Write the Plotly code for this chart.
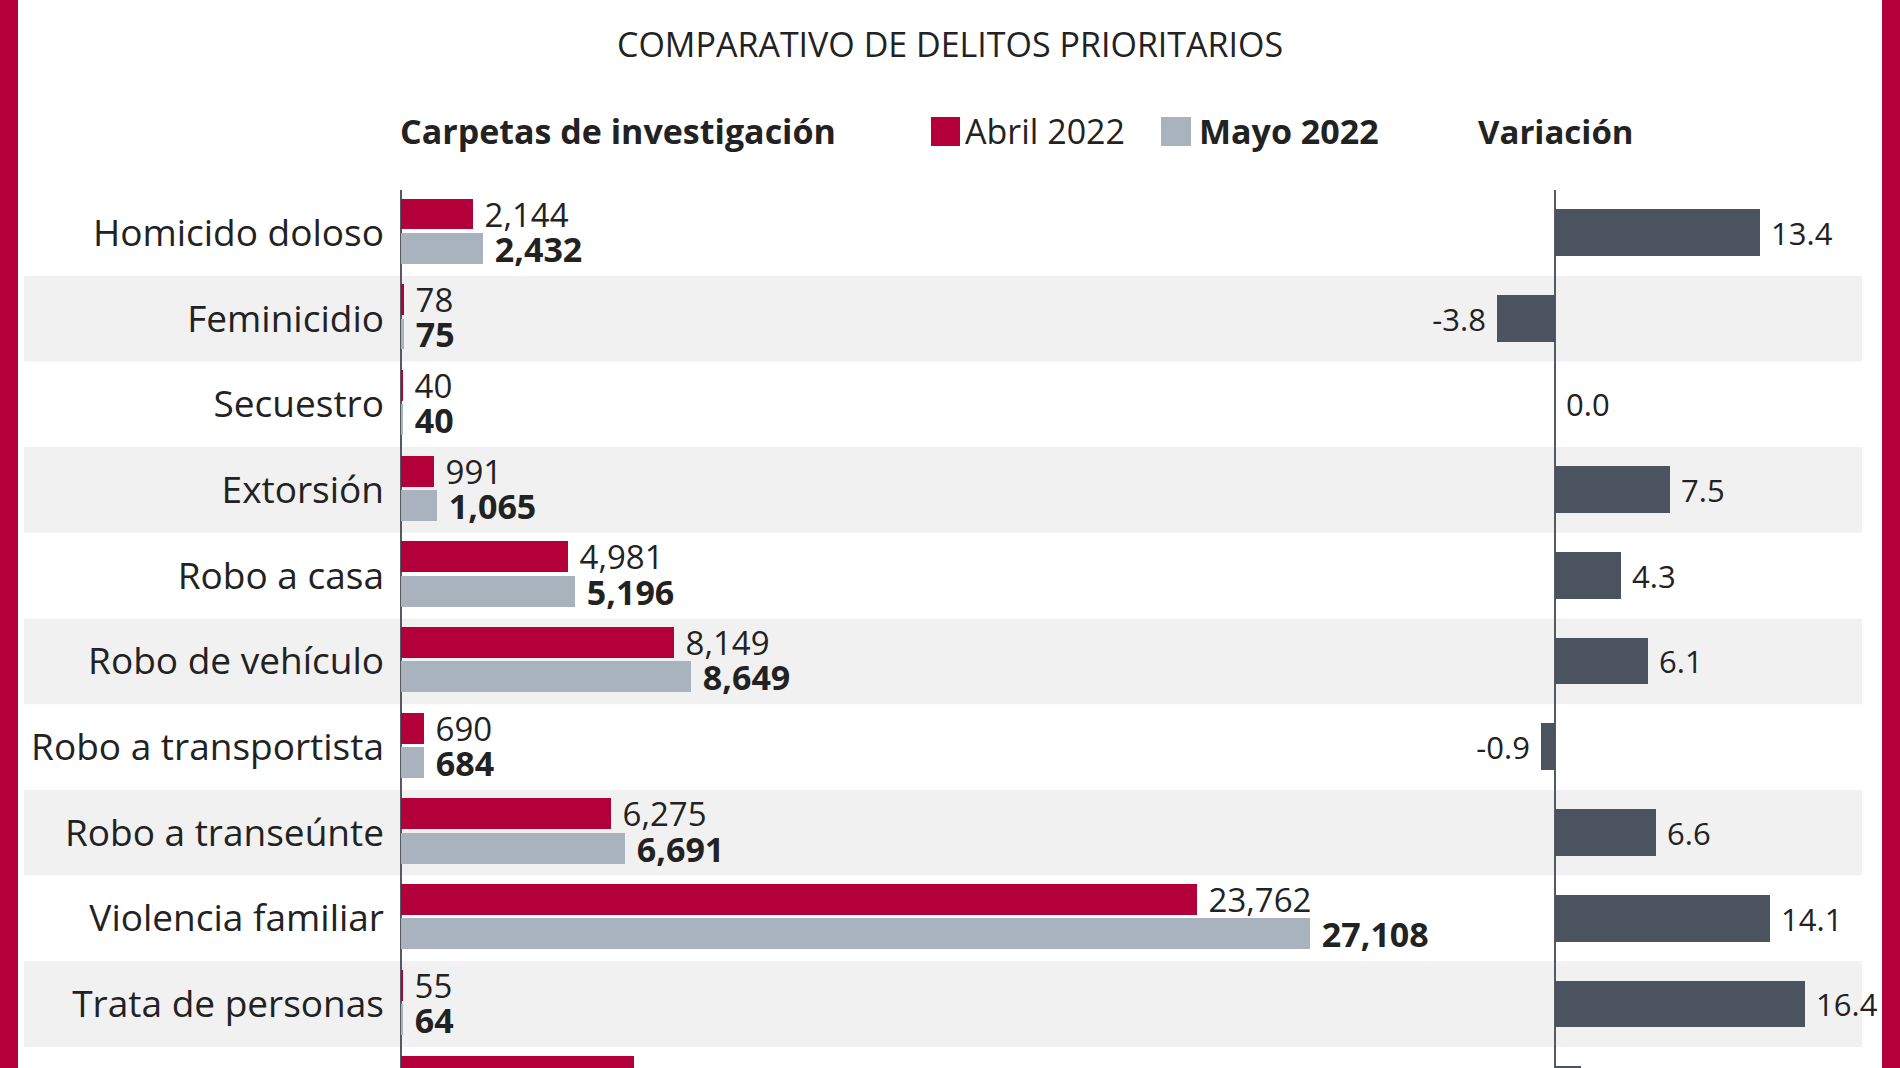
import plotly.graph_objects as go

# ---------------- data ----------------
categorias = ["Homicido doloso", "Feminicidio", "Secuestro", "Extorsión", "Robo a casa",
              "Robo de vehículo", "Robo a transportista", "Robo a transeúnte",
              "Violencia familiar", "Trata de personas", "Robo a negocio"]
abril_2022 = [2144, 78, 40, 991, 4981, 8149, 690, 6275, 23762, 55, 6959]
mayo_2022 = [2432, 75, 40, 1065, 5196, 8649, 684, 6691, 27108, 64, 7077]
variacion = [13.4, -3.8, 0.0, 7.5, 4.3, 6.1, -0.9, 6.6, 14.1, 16.4, 1.7]

titulo = "COMPARATIVO DE DELITOS PRIORITARIOS"
encabezado = "Carpetas de investigación"
serie_abril = "Abril 2022"
serie_mayo = "Mayo 2022"
encabezado_var = "Variación"

# ---------------- style ----------------
W, H, TOP = 1900, 1068, 190
RED = "#b4003a"
GRAY = "#a9b3bd"
DARK = "#4b545e"
BAND = "#f1f1f1"
TXT = "#222222"
FONT = "Open Sans"


def px_x(px):
    return px / W


def px_y(py):
    return (H - py) / (H - TOP)


fig = go.Figure()

fig.add_trace(go.Bar(
    y=categorias, x=abril_2022, orientation="h", name=serie_abril,
    marker=dict(color=RED, line=dict(width=0)),
    offset=-0.40, width=0.36,
    texttemplate=" %{x:,}", textposition="outside", constraintext="none",
    textfont=dict(family=FONT, size=33, color=TXT), cliponaxis=False,
    xaxis="x", yaxis="y", showlegend=False,
))
fig.add_trace(go.Bar(
    y=categorias, x=mayo_2022, orientation="h", name=serie_mayo,
    marker=dict(color=GRAY, line=dict(width=0)),
    offset=0.0, width=0.36,
    texttemplate=" %{x:,}", textposition="outside", constraintext="none",
    textfont=dict(family=FONT, size=34, color=TXT, weight="bold"), cliponaxis=False,
    xaxis="x", yaxis="y", showlegend=False,
))
fig.add_trace(go.Bar(
    y=categorias, x=variacion, orientation="h", name=encabezado_var,
    marker=dict(color=DARK, line=dict(width=0)),
    offset=-0.275, width=0.545,
    texttemplate=" %{x:.1f} ", textposition="outside", constraintext="none",
    textfont=dict(family=FONT, size=31, color=TXT), cliponaxis=False,
    xaxis="x2", yaxis="y", showlegend=False,
))

shapes = []
for i in range(len(categorias)):
    if i % 2 == 1:
        shapes.append(dict(type="rect", xref="paper", yref="y",
                           x0=px_x(24), x1=px_x(1862), y0=i - 0.5, y1=i + 0.5,
                           fillcolor=BAND, line=dict(width=0), layer="below"))
# side borders
shapes.append(dict(type="rect", xref="paper", yref="paper", x0=-0.01, x1=px_x(18),
                   y0=-0.05, y1=px_y(-10), fillcolor=RED, line=dict(width=0), layer="above"))
shapes.append(dict(type="rect", xref="paper", yref="paper", x0=px_x(1882), x1=1.01,
                   y0=-0.05, y1=px_y(-10), fillcolor=RED, line=dict(width=0), layer="above"))
# legend swatches
shapes.append(dict(type="rect", xref="paper", yref="paper", x0=px_x(931), x1=px_x(960),
                   y0=px_y(146), y1=px_y(117), fillcolor=RED, line=dict(width=0)))
shapes.append(dict(type="rect", xref="paper", yref="paper", x0=px_x(1161), x1=px_x(1191),
                   y0=px_y(146), y1=px_y(117), fillcolor=GRAY, line=dict(width=0)))

annotations = [
    dict(text=titulo, x=px_x(950), y=px_y(44), xref="paper", yref="paper",
         xanchor="center", yanchor="middle", showarrow=False,
         font=dict(family=FONT, size=34, color=TXT)),
    dict(text=encabezado, x=px_x(398), y=px_y(131), xref="paper", yref="paper",
         xanchor="left", yanchor="middle", showarrow=False,
         font=dict(family=FONT, size=34, color=TXT, weight="bold")),
    dict(text=serie_abril, x=px_x(963), y=px_y(131), xref="paper", yref="paper",
         xanchor="left", yanchor="middle", showarrow=False,
         font=dict(family=FONT, size=34, color=TXT)),
    dict(text=serie_mayo, x=px_x(1197), y=px_y(131), xref="paper", yref="paper",
         xanchor="left", yanchor="middle", showarrow=False,
         font=dict(family=FONT, size=34, color=TXT, weight="bold")),
    dict(text=encabezado_var, x=px_x(1476), y=px_y(131), xref="paper", yref="paper",
         xanchor="left", yanchor="middle", showarrow=False,
         font=dict(family=FONT, size=33, color=TXT, weight="bold")),
]

fig.update_layout(
    width=W, height=H,
    margin=dict(l=0, r=0, t=TOP, b=0, pad=0),
    paper_bgcolor="white", plot_bgcolor="rgba(0,0,0,0)",
    bargap=0, barmode="overlay",
    shapes=shapes, annotations=annotations,
    xaxis=dict(domain=[px_x(401), px_x(1430)], range=[0, 30700], showgrid=False,
               showticklabels=False, zeroline=True, zerolinecolor="#555a60",
               zerolinewidth=2, anchor="y", fixedrange=True),
    xaxis2=dict(domain=[px_x(1440), px_x(1880)], range=[-7.53, 21.28], showgrid=False,
                showticklabels=False, zeroline=True, zerolinecolor="#555a60",
                zerolinewidth=2, anchor="y", fixedrange=True),
    yaxis=dict(type="category", categoryorder="array", categoryarray=categorias,
               range=[9.745, -0.5], showgrid=False, zeroline=False, showline=False,
               ticklabelstandoff=16, anchor="x", fixedrange=True,
               tickfont=dict(family=FONT, size=37, color=TXT)),
    font=dict(family=FONT, color=TXT),
)

fig.write_html(
    "out.html",
    config={"displayModeBar": False},
    post_script="document.body.style.margin='0';document.body.style.overflow='hidden';",
)
